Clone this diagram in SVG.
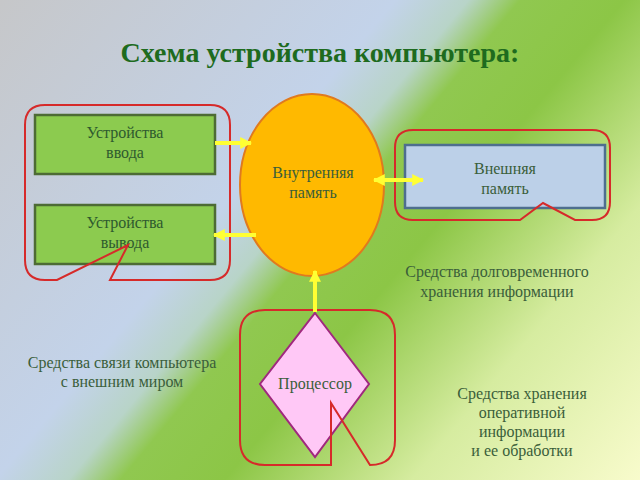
<svg xmlns="http://www.w3.org/2000/svg" width="640" height="480" viewBox="0 0 640 480">
<defs>
<linearGradient id="bg" gradientUnits="userSpaceOnUse" x1="0" y1="0" x2="614" y2="512">
<stop offset="0" stop-color="#c6c7c9"/>
<stop offset="0.38" stop-color="#c3d3ea"/>
<stop offset="0.45" stop-color="#b8d4c8"/>
<stop offset="0.5" stop-color="#90c850"/>
<stop offset="0.6" stop-color="#8cc646"/>
<stop offset="0.78" stop-color="#d6eca0"/>
<stop offset="1" stop-color="#f8fbcc"/>
</linearGradient>
<marker id="ah" viewBox="0 0 10 10" refX="9" refY="5" markerWidth="3" markerHeight="3" orient="auto-start-reverse" markerUnits="strokeWidth">
<path d="M0,0 L10,5 L0,10 z" fill="#ffff33"/>
</marker>
<style>
.t{font-size:16px;fill:#3a5e3a;text-anchor:middle}
.bt{font-size:16px;fill:#2e5a2e;text-anchor:middle}
.call{fill:none;stroke:#d62a2a;stroke-width:2;stroke-linejoin:miter}
.gbox{fill:#8ccb4f;stroke:#4d6b35;stroke-width:2.5}
.arr{stroke:#ffff33;stroke-width:4;fill:none}
</style>
</defs>
<rect width="640" height="480" fill="url(#bg)"/>
<g font-family="'Liberation Serif', 'DejaVu Serif', serif">
<text x="320" y="62" font-size="28" font-weight="bold" fill="#1e6b1e" text-anchor="middle">Схема устройства компьютера:</text>

<g id="input">
<rect class="gbox" x="35" y="115" width="180" height="59"/>
<text class="bt" x="125" y="138">Устройства</text>
<text class="bt" x="125" y="158">ввода</text>
</g>
<g id="output">
<rect class="gbox" x="35" y="205" width="180" height="59"/>
<text class="bt" x="125" y="228">Устройства</text>
<text class="bt" x="125" y="248">вывода</text>
</g>
<g id="callout-io">
<path class="call" d="M45,105 H210 Q230,105 230,125 V260 Q230,280 210,280 H110 L128,245 L57,280 H45 Q25,280 25,260 V125 Q25,105 45,105 Z"/>
</g>
<g id="memory">
<ellipse cx="312" cy="185" rx="72" ry="91" fill="#ffb900" stroke="#e07a1e" stroke-width="2"/>
<text class="t" x="313" y="178">Внутренняя</text>
<text class="t" x="313" y="198">память</text>
</g>
<g id="external">
<rect x="405" y="145" width="200" height="63" fill="#bcd0e8" stroke="#4e6e8e" stroke-width="2.5"/>
<text class="t" x="505" y="174">Внешняя</text>
<text class="t" x="505" y="194">память</text>
</g>
<g id="callout-ext">
<path class="call" d="M413,130 H592 Q610,130 610,148 V202 Q610,220 592,220 H575 L543,203 L520,220 H413 Q395,220 395,202 V148 Q395,130 413,130 Z"/>
</g>
<g id="cpu">
<polygon points="315,313 369,384 315,457 260,384" fill="#ffc8f6" stroke="#a0287e" stroke-width="2"/>
<text class="t" x="315" y="389">Процессор</text>
</g>
<g id="callout-cpu">
<path class="call" d="M265,310 H370 Q395,310 395,335 V440 Q395,465 370,465 L331,403 V465 H265 Q240,465 240,440 V335 Q240,310 265,310 Z"/>
</g>
<g id="labels">
<text class="t" x="497" y="277">Средства долговременного</text>
<text class="t" x="497" y="297">хранения информации</text>
<text class="t" x="122" y="368">Средства связи компьютера</text>
<text class="t" x="122" y="387">с внешним миром</text>
<text class="t" x="522" y="399">Средства хранения</text>
<text class="t" x="522" y="418">оперативной</text>
<text class="t" x="522" y="437">информации</text>
<text class="t" x="522" y="456">и ее обработки</text>
</g>
</g>
<g id="connectors">
<line class="arr" x1="215" y1="143" x2="251" y2="143" marker-end="url(#ah)"/>
<line class="arr" x1="256" y1="235" x2="214" y2="235" marker-end="url(#ah)"/>
<line class="arr" x1="315" y1="312" x2="315" y2="271" marker-end="url(#ah)"/>
<line class="arr" x1="374" y1="180" x2="423" y2="180" marker-start="url(#ah)" marker-end="url(#ah)"/>
</g>
</svg>
